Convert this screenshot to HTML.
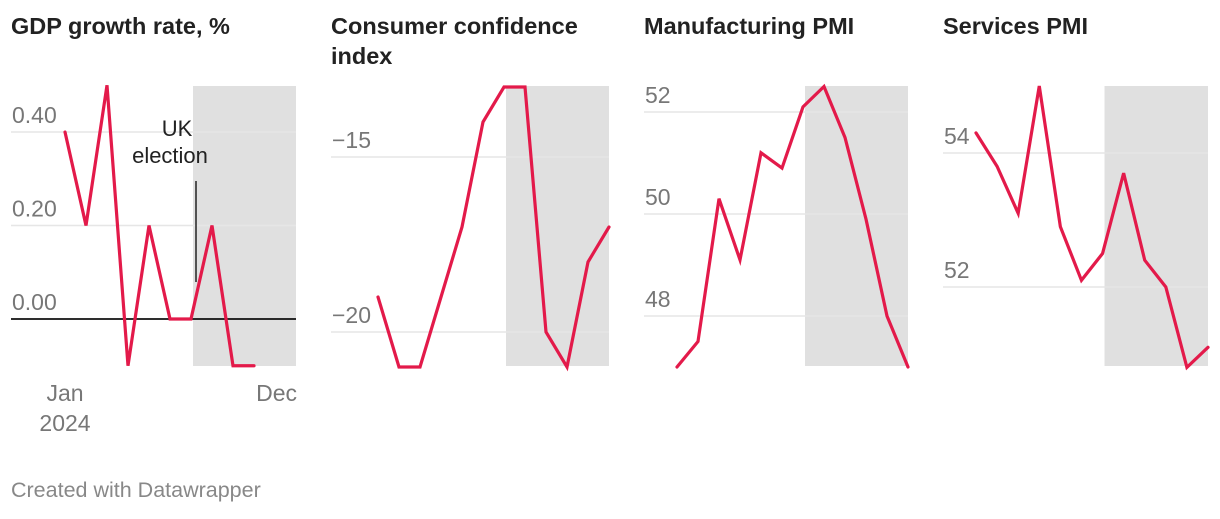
<!DOCTYPE html>
<html><head><meta charset="utf-8"><style>
body{margin:0;background:#fff;width:1220px;height:514px;overflow:hidden;font-family:"Liberation Sans",sans-serif}
svg text{font-family:"Liberation Sans",sans-serif}
</style></head><body>
<svg id="c" width="1220" height="514">
<text x="11" y="34" font-size="23.5" font-weight="bold" fill="#222">GDP growth rate, %</text>
<text x="331" y="34" font-size="23.5" font-weight="bold" fill="#222">Consumer confidence</text>
<text x="331" y="64" font-size="23.5" font-weight="bold" fill="#222">index</text>
<text x="644" y="34" font-size="23.5" font-weight="bold" fill="#222">Manufacturing PMI</text>
<text x="943" y="34" font-size="23.5" font-weight="bold" fill="#222">Services PMI</text>
<text x="65" y="401" font-size="23" fill="#777" text-anchor="middle">Jan</text>
<text x="65" y="431" font-size="23" fill="#777" text-anchor="middle">2024</text>
<text x="297" y="401" font-size="23" fill="#777" text-anchor="end">Dec</text>
<text x="11" y="497" font-size="21.5" fill="#888">Created with Datawrapper</text>
</svg>
<script>
const gdpValues=[0.4,0.2,0.5,-0.1,0.2,0,0,0.2,-0.1,-0.1];
const gdpTicks=[0,0.2,0.4];
const gdpTickLabels=["0.00","0.20","0.40"];
const ccValues=[-19,-21,-21,-19,-17,-14,-13,-13,-20,-21,-18,-17];
const ccTicks=[-20,-15];
const ccTickLabels=["\u221220","\u221215"];
const mpmiValues=[47.0,47.5,50.3,49.1,51.2,50.9,52.1,52.5,51.5,49.9,48.0,47.0];
const mpmiTicks=[48,50,52];
const spmiValues=[54.3,53.8,53.1,55.0,52.9,52.1,52.5,53.7,52.4,52.0,50.8,51.1];
const spmiTicks=[52,54];
const svg=document.getElementById('c');
const NS='http://www.w3.org/2000/svg';
function mk(t,a){const e=document.createElementNS(NS,t);for(const k in a)e.setAttribute(k,a[k]);svg.appendChild(e);return e;}
function panel(p){
  const x=i=>p.x0+i*(p.x1-p.x0)/11;
  const y=v=>p.y0+(v-p.v0)*(p.y1-p.y0)/(p.v1-p.v0);
  const sh=mk('rect',{x:x(6)+2,y:86,width:p.x1-x(6)-2,height:280,fill:'#e0e0e0'});
  
  
  p.ticks.forEach((t,i)=>{
    const isZero=t===0&&p.zero;
    const g=mk('line',{x1:p.gl,x2:p.x1,y1:y(t),y2:y(t),stroke:isZero?'#111':'#e6e6e6','stroke-width':isZero?1.8:1.5});
    
    
    const tx=mk('text',{x:p.gl+1,y:y(t)-9,'font-size':23,fill:'#777'});
    tx.textContent=p.labels[i];
    
    
  });
  if(p.extra)p.extra(x,y);
  const pts=p.vals.map((v,i)=>x(i)+','+y(v)).join(' ');
  const l=mk('polyline',{points:pts,fill:'none',stroke:'#e31a4a','stroke-width':3.2,'stroke-linejoin':'miter','stroke-linecap':'round'});
  
  
}
panel({name:'gdp',x0:65,x1:296,gl:11,v0:0,v1:0.4,y0:319,y1:132,vals:gdpValues,ticks:gdpTicks,labels:gdpTickLabels,zero:true,
 extra:(x,y)=>{
  const a=mk('line',{x1:196,x2:196,y1:181,y2:282,stroke:'#222','stroke-width':1.5});
  
  
  const t1=mk('text',{x:177,y:136,'font-size':22,fill:'#222','text-anchor':'middle'});t1.textContent='UK';
  
  
  const t2=mk('text',{x:170,y:163,'font-size':22,fill:'#222','text-anchor':'middle'});t2.textContent='election';
  
  
 }});
panel({name:'consumer-confidence',x0:378,x1:609,gl:331,v0:-20,v1:-15,y0:332,y1:157,vals:ccValues,ticks:ccTicks,labels:ccTickLabels});
panel({name:'manufacturing-pmi',x0:677,x1:908,gl:644,v0:48,v1:52,y0:316,y1:112,vals:mpmiValues,ticks:mpmiTicks,labels:mpmiTicks.map(String)});
panel({name:'services-pmi',x0:976,x1:1208,gl:943,v0:52,v1:54,y0:287,y1:153,vals:spmiValues,ticks:spmiTicks,labels:spmiTicks.map(String)});
</script>
</body></html>
